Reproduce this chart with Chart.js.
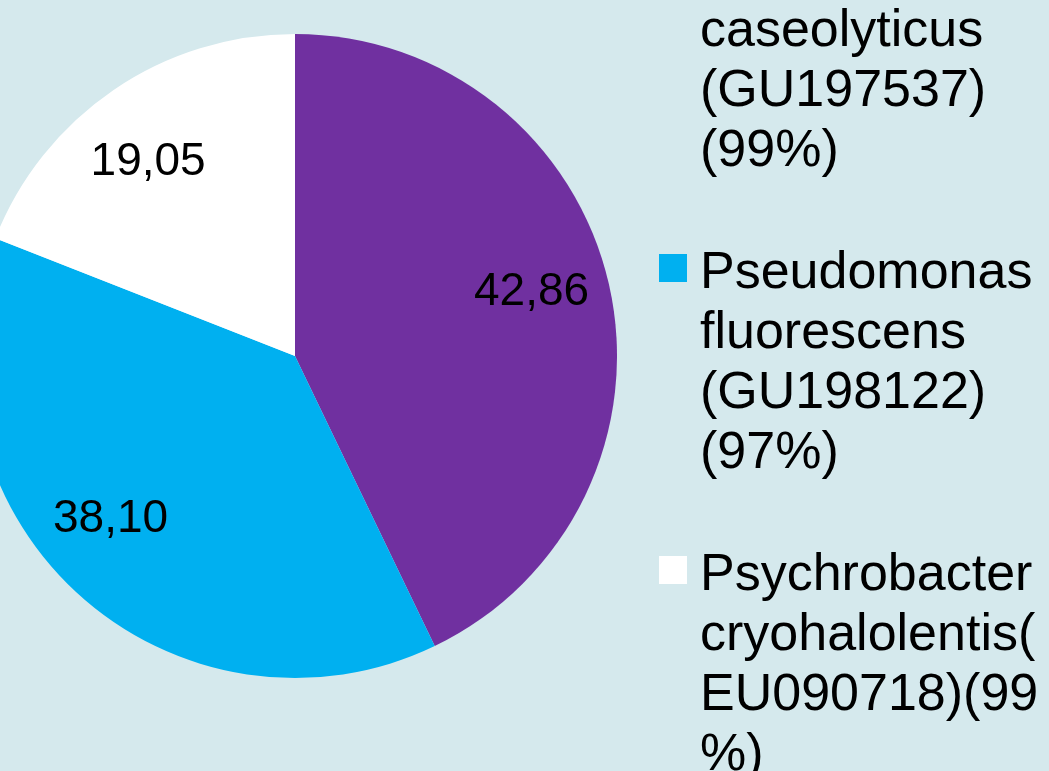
<!DOCTYPE html>
<html>
<head>
<meta charset="utf-8">
<script src="https://cdn.jsdelivr.net/npm/chart.js@4/dist/chart.umd.min.js"></script>
<style>
  html, body { margin: 0; padding: 0; width: 1049px; height: 771px; overflow: hidden; background: #d5e9ed; }
  #wrap { position: absolute; left: -27px; top: 34px; width: 644px; height: 644px; }
  #legend { position: absolute; left: 659px; top: -62px; font-family: "Liberation Sans", Arial, sans-serif; font-size: 52px; line-height: 60px; color: #000; white-space: nowrap; }
  .item { display: flex; align-items: flex-start; margin-bottom: 62px; }
  .box { width: 28px; height: 28px; margin-top: 14px; margin-right: 13px; flex: none; }
</style>
</head>
<body>
<div id="wrap"><canvas id="c"></canvas></div>
<div id="legend"></div>
<script>
const categories = [
  ["Macrococcus", "caseolyticus", "(GU197537)", "(99%)"],
  ["Pseudomonas", "fluorescens", "(GU198122)", "(97%)"],
  ["Psychrobacter", "cryohalolentis(", "EU090718)(99", "%)"]
];
const values = [42.86, 38.10, 19.05];
const valueLabels = ["42,86", "38,10", "19,05"];
const colors = ["#7030A0", "#00B0F0", "#FFFFFF"];
// small best-fit nudges of the value labels (pixels)
const labelNudge = [[-2, -11], [-18, -18], [-9, 7]];

const legendEl = document.getElementById('legend');
categories.forEach((lines, i) => {
  const item = document.createElement('div');
  item.className = 'item';
  const box = document.createElement('div');
  box.className = 'box';
  box.style.background = colors[i];
  const txt = document.createElement('div');
  lines.forEach(l => { const d = document.createElement('div'); d.textContent = l; txt.appendChild(d); });
  item.appendChild(box); item.appendChild(txt);
  legendEl.appendChild(item);
});

const labelPlugin = {
  id: 'sliceLabels',
  afterDatasetsDraw(chart) {
    const ctx = chart.ctx;
    const meta = chart.getDatasetMeta(0);
    ctx.save();
    ctx.font = '46px "Liberation Sans", Arial, sans-serif';
    ctx.fillStyle = '#000';
    ctx.textAlign = 'center';
    ctx.textBaseline = 'middle';
    meta.data.forEach((arc, i) => {
      const p = arc.getProps(['x','y','startAngle','endAngle','outerRadius'], true);
      const mid = (p.startAngle + p.endAngle) / 2;
      const r = p.outerRadius * 0.76;
      ctx.fillText(valueLabels[i], p.x + Math.cos(mid) * r + labelNudge[i][0], p.y + Math.sin(mid) * r + 2 + labelNudge[i][1]);
    });
    ctx.restore();
  }
};

new Chart(document.getElementById('c'), {
  type: 'pie',
  data: {
    labels: categories.map(l => l.join(' ')),
    datasets: [{ data: values, backgroundColor: colors, borderWidth: 0, hoverOffset: 0 }]
  },
  options: {
    responsive: true,
    maintainAspectRatio: false,
    animation: false,
    layout: { padding: 0 },
    plugins: { legend: { display: false }, tooltip: { enabled: false } }
  },
  plugins: [labelPlugin]
});
</script>
</body>
</html>
